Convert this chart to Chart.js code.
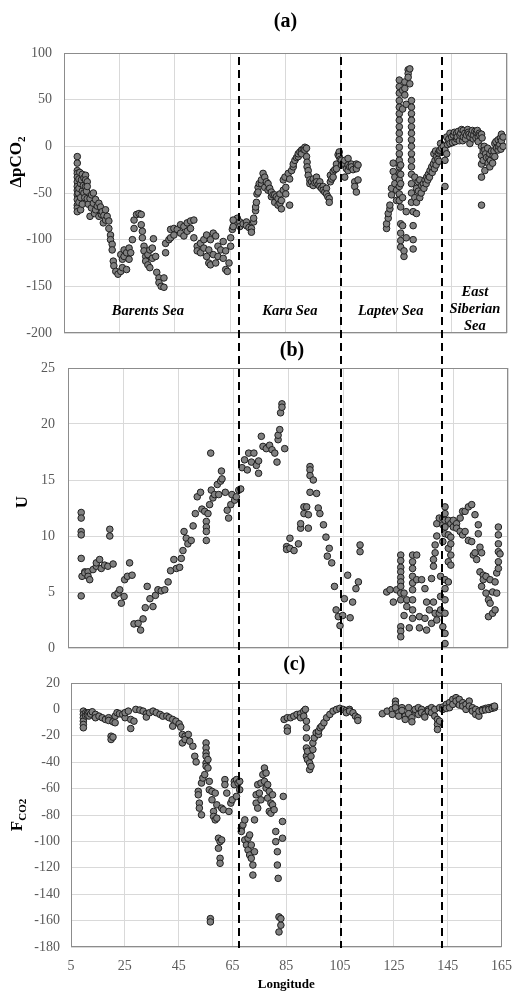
<!DOCTYPE html>
<html><head><meta charset="utf-8">
<script src="https://cdn.jsdelivr.net/npm/chart.js@4.4.0/dist/chart.umd.min.js"></script>
<style>
html,body{margin:0;padding:0;background:#fff;}
body{width:523px;height:993px;position:relative;overflow:hidden;}
canvas{position:absolute;left:0;}
#cd{pointer-events:none;}
</style></head><body>
<canvas id="ca" width="523" height="345" style="top:0px"></canvas>
<canvas id="cb" width="523" height="325" style="top:335px"></canvas>
<canvas id="cc" width="523" height="343" style="top:650px"></canvas>
<canvas id="cd" width="523" height="993" style="top:0px"></canvas>
<script>
// ---------- DATA ----------
const xTicks = [5, 25, 45, 65, 85, 105, 125, 145, 165];
const seaBoundaries = [67.2, 104.3, 141];
const seaNames = [
  {lines:['Barents Sea'], lon:35.3, val:-177},
  {lines:['Kara Sea'], lon:86.6, val:-177},
  {lines:['Laptev Sea'], lon:123, val:-177},
  {lines:['East','Siberian','Sea'], lon:153.4, val:-156}
];

// (a) delta pCO2 : [longitude, value]
const dpco2 = [
[9.8,-11],[9.8,-18],[9.8,-26],[9.8,-29],[9.8,-33],[9.8,-38],[9.8,-43],[9.8,-47],[9.8,-52],[9.8,-57],[9.8,-63],[9.8,-66],[9.8,-70],
[10.1,-50],[10.4,-35],[10.4,-45],[10.4,-60],[10.7,-28],[11,-40],[11,-55],[11,-68],[11.3,-36],[11.6,-30],[11.6,-48],[11.6,-62],[12,-42],
[12.2,-34],[12.2,-50],[12.5,-55],[12.8,-31],[12.8,-36],[12.8,-43],[13.1,-48],[13.4,-38],[13.4,-43],[13.4,-56],[13.8,-62],[14.4,-75],[14.4,-56],
[14.9,-66],[15,-52],[15.6,-50],[15.6,-61],[16,-72],[16.4,-68],[16.4,-57],[17,-64],[17.6,-61],[17.6,-75],[18.2,-65],[18.5,-73],[18.8,-70],
[19.2,-82],[19.4,-74],[20,-68],[20,-79],[20.6,-75],[21.2,-80],[21.2,-88],[21.8,-95],[21.8,-100],[22.4,-105],[22.4,-111],[22.8,-123],[23,-128],[23.7,-134],[24.5,-137],
[25.5,-134],[25.5,-116],[26.1,-130],[26.1,-121],[26.7,-111],[26.7,-118],[27.6,-132],[27.6,-114],[28.5,-109],[28.5,-121],[29.1,-114],[29.7,-100],
[30.3,-88],[30.3,-79],[31.2,-73],[32.1,-72],[32.9,-73],[32.9,-84],[33.3,-91],[33.3,-98],[33.9,-107],[33.9,-112],[34.5,-118],[34.5,-123],
[35.3,-127],[35.3,-116],[36,-130],[36,-111],[36.9,-120],[36.9,-109],[37.3,-99],[38.1,-118],[38.5,-135],[39.3,-141],[39.3,-146],[40.1,-150],
[41.1,-141],[41.1,-151],[41.7,-104],[41.7,-114],[42.9,-100],[43.5,-89],[43.5,-98],[44.7,-95],[44.7,-88],[45.9,-89],[47.1,-84],[47.1,-93],
[48.3,-86],[48.3,-96],[49.5,-82],[49.5,-91],[50.7,-80],[50.7,-88],[51.9,-79],[51.9,-98],[53.1,-107],[53.1,-112],[54.3,-104],[54.3,-114],
[55.5,-100],[55.5,-109],[56.5,-95],[56.5,-118],[57.3,-111],[57.3,-125],[57.9,-100],[57.9,-127],[58.9,-93],[58.9,-116],[59.8,-96],[59.8,-125],
[60.6,-107],[60.6,-118],[61.6,-111],[62.5,-120],[62.5,-102],[63.4,-132],[63.4,-112],[64,-134],[64.6,-125],[65.2,-107],[65.2,-98],[65.8,-89],
[66.6,-82],[67.6,-77],
[66.1,-86],[66.1,-79],[68.5,-81],[68.5,-86],[69.7,-83],[70.9,-81],[70.9,-85],[71.8,-87],[72.7,-88],[72.7,-92],[73.5,-81],[73.5,-77],
[74.2,-69],[74.2,-65],[74.5,-60],[74.7,-51],[75.1,-44],[75.1,-49],[75.5,-40],[76.3,-40],[76.3,-36],[76.9,-29],[77.5,-33],[77.5,-44],
[78.1,-38],[78.7,-47],[78.7,-40],[79.3,-45],[79.9,-54],[79.9,-49],[80.5,-52],[81.1,-60],[81.1,-52],[81.7,-54],[82.3,-63],[82.3,-56],
[83,-61],[83,-51],[83.5,-67],[83.5,-58],[84.2,-36],[84.2,-47],[84.8,-33],[85.1,-51],[85.1,-44],[86,-29],[86.5,-35],[86.5,-63],[87.2,-26],
[87.8,-22],[87.8,-19],[88.4,-15],[89,-12],[89.6,-11],[89.6,-8],[90.2,-6],[90.8,-4],[90.8,-8],[91.4,-3],[92,-1],[92,-4],[92.6,-2],[92.6,-11],
[92.8,-17],[92.8,-22],[93.2,-26],[93.2,-31],[93.8,-36],[93.8,-40],[94.4,-38],[95,-35],[95,-42],[95.6,-39],[96.2,-33],[96.2,-38],[96.8,-41],
[97.4,-38],[97.4,-43],[98,-45],[98.6,-43],[98.6,-47],[99.2,-49],[99.8,-45],[99.8,-51],[100.3,-54],[100.8,-56],[100.8,-60],[101.2,-31],
[101.2,-38],[101.7,-35],[102.2,-27],[102.2,-33],[102.8,-25],[103.4,-19],[103.4,-24],[104,-9],[104.4,-6],[104.4,-11],[104.8,-14],[105.2,-15],
[105.2,-20],[105.8,-18],[106.4,-15],[106.4,-33],[107,-24],[107.6,-13],[107.6,-20],[107.6,-26],[108.2,-22],[108.8,-19],[108.8,-22],[109.4,-25],
[110,-38],[110,-43],[110.6,-19],[110.6,-24],[110.6,-49],[111.2,-20],[111.2,-36],
[121.5,-88],[121.5,-83],[122.1,-77],[122.1,-72],[122.7,-67],[122.7,-63],[123.3,-52],[123.3,-45],[123.9,-18],[123.9,-27],[124.5,-33],[124.5,-40],
[125.1,-58],[125.1,-47],
[126.1,71],[126.1,64],[126.1,57],[126.1,49],[126.1,42],[126.1,35],[126.1,28],[126.1,21],[126.1,14],[126.1,7],[126.1,-1],[126.1,-8],
[126.1,-15],[126.1,-22],[126.1,-29],[126.1,-36],[126.1,-43],[126.1,-51],[126.1,-58],
[126.6,-83],[126.6,-93],[126.6,-101],[126.6,-108],[126.6,-30],[126.6,-40],[126.6,-20],[126.6,-65],
[127.3,60],[127.3,40],[127.3,-55],[127.3,-85],[127.8,-118],[127.8,-112],[128.1,69],[128.1,62],[128.1,55],[128.6,45],[128.6,-70],[128.6,-98],
[129.3,82],[129.3,78],[129.3,74],[129.9,83],[129.9,67],
[130.5,49],[130.5,42],[130.5,35],[130.5,28],[130.5,21],[130.5,14],[130.5,7],[130.5,0],[130.5,-8],[130.5,-15],[130.5,-22],[130.5,-30],
[130.5,-40],[130.5,-50],[130.5,-60],
[131.1,-70],[131.1,-85],[131.1,-100],[131.1,-110],[131.7,-33],[131.7,-55],[132.3,-45],[132.3,-60],[132.3,-72],[132.9,-38],[133,-48],[133.5,-36],
[133.5,-55],[134,-50],[134.2,-42],[134.8,-40],[135,-45],[135.4,-36],[135.8,-40],[136,-33],[136.4,-36],[136.6,-30],[137,-33],[137.2,-26],
[137.8,-22],[138,-28],[138.4,-19],[138.6,-8],[138.8,-24],[139,-15],[139.2,-5],[139.4,-20],[139.6,-11],[140,-14],[140.2,-7],[140.4,-16],
[140.6,-5],[140.8,-4],[141,3],[141.4,-2],[142,0],
[142.6,-4],[142.6,-15],[142.6,-43],[143.2,10],[143.2,-8],[143.5,2],[143.8,6],[144,8],[144.4,14],[144.4,3],[145,10],[145.3,4],[145.6,12],
[146,15],[146.2,5],[146.8,14],[146.8,8],[147,10],[147.4,16],[147.8,6],[148,12],[148.3,14],[148.6,18],[149,6],[149.2,17],[149.2,10],[149.8,14],
[150,8],[150.4,12],[150.8,18],[151,15],[151.3,13],[151.6,10],[151.6,3],[152.2,13],[152.5,17],[152.8,8],[153,12],[153.4,16],[153.8,9],
[154,15],[154.3,17],[154.6,10],[154.6,5],[155,14],[155.2,12],[155.8,13],[155.8,0],[155.8,-10],[155.8,-19],[155.8,-33],[155.8,-63],[156,9],
[156.4,-5],[156.4,-15],[156.8,0],[157,-4],[157,-26],[157.3,-8],[157.6,-12],[158,-2],[158.2,-18],[158.5,-12],[158.8,-8],[158.8,-22],[159,-15],
[159.4,-5],[159.8,-18],[160,-10],[160.3,-5],[160.6,3],[160.6,-11],[161,5],[161.2,-2],[161.8,7],[161.8,-4],[162,0],[162.4,2],[162.6,9],
[162.8,-3],[163,13],[163,6],[163.6,10],[163.6,0]
];

// (b) wind speed U : [longitude, value]
const windU = [
[9.8,12.1],[9.8,11.6],[9.8,10.4],[9.8,10.1],[9.8,8.0],[9.8,4.65],[10.1,6.4],[11.1,6.8],[11.1,6.7],[12.3,6.8],[12.3,6.4],[12.9,6.1],
[14.1,7.0],[15.3,7.3],[15.3,7.6],[16.5,7.9],[17.1,7.1],[18.3,7.4],[19.5,7.3],[20.2,10.6],[20.2,10.0],[21.4,7.5],[22,4.7],[23.2,4.9],
[23.8,5.2],[24.4,4.0],[25.4,4.6],[25.6,6.1],[26.6,6.4],[27.4,7.6],[28.3,6.5],[29,2.15],[30.5,2.2],[31.4,1.6],[32.3,2.6],[33.1,3.6],
[33.8,5.5],[34.8,4.4],[35.9,3.7],[36.8,4.7],[37.7,5.2],[38.9,5.1],[40.2,5.2],[41.4,5.9],[42.3,6.9],[43.5,7.9],[44.4,7.1],[45.6,7.2],
[46.2,8.0],[46.8,8.7],[47.2,10.4],[48,9.8],[48.6,9.3],[49.8,9.6],[50.5,10.9],[51.3,12.0],[52,13.5],[53.2,13.9],[53.7,12.4],[54.7,12.2],
[55.3,11.3],[55.3,10.8],[55.3,10.4],[55.3,9.6],[55.9,12.0],[56.5,12.8],[56.9,17.4],[57.1,14.1],[57.7,13.4],[58.3,13.7],[59.3,14.6],
[59.8,13.7],[60.5,14.9],[60.8,15.8],[61,15.1],[62.2,13.9],[62.9,12.3],[63.4,11.6],[64.2,12.8],[64.6,13.7],[65.6,13.2],[66.2,13.5],
[67.1,14.1],[67.8,14.2],[68.3,16.1],[69.2,16.8],[70.2,15.9],[70.7,17.4],[71.7,16.6],[72.6,17.4],[73.5,16.3],[74.3,15.6],[74.3,16.7],
[75.3,18.9],[75.9,18.0],[77.1,17.8],[78.3,18.1],[79.2,17.7],[80.2,17.4],[81,16.6],[81.4,18.6],[81.4,19.0],[82,19.5],[82.3,21.0],
[82.8,21.8],[82.8,21.5],[83.8,17.8],
[84.5,9.05],[84.5,8.8],[85.7,9.8],[85.7,8.9],[87.2,8.7],[88.8,9.3],[89.6,10.7],[89.6,11.1],[90.8,12.6],[90.8,12.0],[91.8,12.6],[92.4,10.7],
[92.4,11.9],[93,16.2],[93,15.9],[93,15.4],[93,13.9],[94.2,15.0],[95.4,13.8],[96,12.5],[96.6,12.0],[97.9,11.0],[98.8,9.9],[100,8.9],
[99.3,8.2],[100.9,7.6],[101.9,5.5],[102.5,3.4],[103.3,2.8],[103.9,2.0],[104.9,2.9],[105.5,4.4],[106.7,6.5],[107.6,2.7],[108.5,4.1],
[109.7,5.3],[110.6,5.9],[111.2,8.6],[111.2,9.2],
[120.9,5.0],[122.1,5.2],[123.3,4.1],[124.5,5.2],
[126,8.3],[126,7.8],[126,7.2],[126,6.8],[126,6.3],[126,5.9],[126,5.5],[126,4.9],[126,4.3],[126,1.9],[126,1.5],[126,1.0],
[127.2,2.9],[127.2,4.9],[128.2,4.3],[128.2,3.7],[129.1,1.8],
[130.3,8.3],[130.3,7.7],[130.3,7.1],[130.3,6.4],[130.3,5.8],[130.3,5.2],[130.3,4.3],[130.3,3.4],[130.3,2.65],
[131.8,8.3],[131.8,6.1],[132.8,1.8],[132.8,2.8],[133.6,6.1],[134.8,5.3],[134.8,2.65],[135.4,4.1],[135.4,1.6],[136.4,3.4],[137.2,6.2],
[137.2,2.2],[137.9,7.3],[137.9,7.9],[137.9,4.1],[138.5,9.2],[138.5,8.5],[138.5,3.1],[139.1,10.0],[139.1,11.1],[139.1,2.5],[140,11.6],
[140,3.1],[140.5,4.6],[140.5,3.4],[140.5,6.4],[141.3,11.0],[141.3,11.6],[141.3,9.5],[141.3,1.9],
[142.1,12.6],[142.1,12.0],[142.1,11.4],[142.1,10.8],[142.1,10.2],[142.1,6.1],[142.1,5.3],[142.1,4.3],[142.1,3.1],[142.1,1.3],[142.1,0.4],
[143.3,11.4],[143.3,10.1],[143.3,8.9],[143.3,7.7],[143.3,5.9],[144.2,11.1],[144.2,9.9],[144.2,9.3],[144.2,8.3],[144.2,7.4],
[145.1,11.4],[145.1,10.8],[146.3,11.1],[146.3,10.7],[147.6,11.6],[147.6,10.4],[148.5,12.2],[148.5,10.1],[149.4,12.2],[149.4,10.4],
[150.6,12.6],[150.6,9.6],[151.8,12.8],[151.8,9.5],[152.4,8.3],[153,11.9],[153,8.5],[153.6,7.9],[154.2,11.0],[154.2,10.2],[154.8,6.8],
[154.8,9.0],[155.4,8.5],[155.4,5.5],[156,6.5],[156,6.1],[157,6.4],[157,4.9],[157.9,4.3],[157.9,2.8],[158.5,4.0],[158.5,6.1],[159.4,5.0],
[159.4,3.1],[160.3,5.9],[160.3,3.4],[160.9,6.7],[160.9,4.9],[161.5,10.8],[161.5,10.1],[161.5,9.3],[161.5,8.6],[161.5,7.7],[161.5,7.1],
[162.1,8.4]
];

// (c) CO2 flux : [longitude, value]
const fco2 = [
[9.6,-1.3],[9.6,-3.8],[9.6,-6.3],[9.6,-8.9],[9.6,-11.4],[9.6,-13.9],[10.5,-2.5],[10.5,-5],[11.1,-3],[11.1,-4.5],[11.7,-2.5],[11.7,-5],
[12.3,-3.5],[12.9,-1.8],[14.1,-3.8],[14.1,-6.3],[15.4,-5.1],[16.6,-6.3],[17.8,-7.6],[19,-6.3],[19,-8.4],[19.9,-20.3],[19.9,-22.8],
[20.6,-21],[20.6,-9.4],[21.4,-10.1],[21.4,-5.1],[22.1,-2.5],[23,-3.3],[24.2,-3.8],[25.1,-6.3],[25.1,-2.5],[26.3,-1.3],[27.2,-7.6],
[27.2,-14.5],[28.4,-8.9],[29.1,0],[30.6,-0.5],[31.8,-1.3],[33,-3.3],[33,-5.8],[34.2,-2.5],[35.5,-1.3],[36.7,-2.5],[38.1,-3.8],[39.1,-5.1],
[40.6,-5.1],[41.5,-6.3],[42.8,-7.6],[42.8,-12.7],[44,-8.9],[45.2,-10.9],[45.8,-13.4],[46.4,-19],[46.4,-25.4],[47.4,-20.3],[47.4,-22.8],
[48.6,-19],[49.1,-24.1],[50.3,-27.9],[51,-35.5],[51.5,-39.8],[52.3,-62.1],[52.3,-64.7],[52.7,-71],[52.7,-74.8],[53.5,-55.8],[53.5,-79.9],
[54,-52],[54.7,-49.4],[55.2,-25.4],[55.2,-29.2],[55.2,-33],[55.2,-35.5],[55.2,-40.6],[55.2,-43.1],[55.9,-44.4],[55.9,-38],[56.4,-54.5],
[56.4,-60.9],[56.8,-158.5],[56.8,-161],[57.4,-62.1],[57.4,-68.5],[58,-77.3],[58,-81.1],[58.6,-63.4],[58.6,-83.7],[59.2,-72.3],[59.2,-82.4],
[59.8,-97.6],[59.8,-105.2],[60.4,-100.2],[60.4,-112.8],[60.4,-116.6],[61,-98.9],[61,-74.8],[61.6,-76],[62.2,-53.2],[62.2,-57],[62.9,-63.4],
[63.7,-77.3],[64.4,-71],[64.9,-68.5],[65.7,-54.5],[65.7,-57],[66.5,-53.2],[66.5,-65.9],[67.1,-55.8],[67.7,-60.9],[67.7,-54.5],[68.3,-90],
[68.3,-92.5],[68.9,-87.5],[69.6,-83.7],[69.6,-98.9],[70.2,-102.7],[70.8,-106.5],[70.8,-97.6],[71.4,-95.1],[71.4,-110.3],[72,-112.8],
[72,-102.7],[72.6,-117.9],[72.6,-125.5],[73.2,-107.8],[73.2,-83.7],[73.8,-64.7],[73.8,-71],[74.4,-74.8],[74.4,-57],[75,-63.4],[75.6,-55.8],
[75.6,-68.5],[76.3,-49.4],[76.9,-44.4],[76.9,-54.5],[77.5,-48.2],[77.5,-59.6],[78.1,-57],[78.1,-67.2],[78.7,-62.1],[78.7,-77.3],[79.3,-71],
[79.3,-78.6],[79.9,-72.3],[79.9,-64.7],[80.5,-76],[81.1,-92.5],[81.1,-100.2],[81.7,-107.8],[81.7,-117.9],[82,-128],[82.3,-157.2],
[82.3,-168.6],[83,-163.5],[83,-158.5],[83.6,-97.6],[83.6,-84.9],[83.9,-65.9],
[84.2,-7.6],[85.4,-6.3],[85.4,-13.9],[85.4,-16.5],[86.6,-6.3],[87.8,-5.1],[89,-3.8],[90.3,-3.3],[90.3,-6.3],[91.5,-1.3],[91.5,-5.1],
[92.1,0],[92.5,-8.9],[92.5,-13.9],[92.5,-21.6],[92.5,-29.2],[92.5,-35.5],[92.9,-31.7],[92.9,-38],[93.7,-40.6],[93.7,-45.6],[94.2,-43.1],
[94.2,-35.5],[94.9,-30.4],[94.9,-25.4],[95.4,-21.6],[96.1,-17.7],[97,-19],[97,-16.5],[97.6,-13.9],[98.2,-12.7],[99,-10.1],[100,-6.3],
[101.2,-3.8],[102.4,-1.3],[103.7,0],[104.9,0.8],[106.1,0],[107.3,-0.8],[107.3,-2.5],[108.5,0],[108.5,-1.3],[109.8,-2.5],[110.7,-5.1],
[111.6,-6.3],[111.6,-8.4],
[120.7,-3.3],[122.5,-1.3],[124.4,0],[124.4,-3.8],[125.6,6.3],[125.6,3.8],[125.6,1.3],[126.8,-2.5],[126.8,-5.1],[128,1.3],[128,-0.8],
[129.2,-5.1],[129.2,-7.6],[130.5,1.3],[130.5,-3.3],[131.7,-6.3],[131.7,-9.4],[132.9,-1.3],[132.9,0],[134.1,-3.8],[134.1,1.3],[135.3,0],
[135.3,-2.5],[136.5,-3.8],[136.5,-5.8],[137.8,0],[137.8,-1.3],[139,1.3],[139,-2.5],[140.2,0],[140.2,-5.1],[141.2,-7.6],[141.2,-11.4],
[141.2,-15.2],[142,-8.9],[142,1.3],[143.2,1.8],[143.2,0],[144.5,3.8],[144.5,0.8],[145.7,5.1],[145.7,1.3],[146.9,7.6],[146.9,3.8],
[148.1,8.9],[148.1,6.3],[149.3,7.6],[149.3,3.3],[150.6,5.1],[150.6,2.5],[151.8,3.8],[151.8,0],[153,6.3],[153,2.5],[154.2,1.3],[154.2,-1.3],
[155.4,0],[155.4,-3.8],[156.6,-5.1],[156.6,-1.3],[157.9,0],[157.9,-0.8],[159.1,0.8],[159.1,-0.3],[160.3,1.3],[160.3,0],[161.5,1.8],
[161.5,0.8],[162.4,1.3],[162.4,2.5]
];

// ---------- RENDERING ----------
const SERIF = '"Liberation Serif","Times New Roman",serif';
Chart.defaults.font.family = SERIF;

function rotTitle(ctx, x, y, parts){
  ctx.save();
  ctx.translate(x, y);
  ctx.rotate(-Math.PI/2);
  let total = 0;
  parts.forEach(p => { ctx.font = `bold ${p.size}px ${SERIF}`; p.w = ctx.measureText(p.t).width; total += p.w; });
  let cx = -total/2;
  ctx.textBaseline = 'middle'; ctx.textAlign = 'left'; ctx.fillStyle = '#000';
  parts.forEach(p => { ctx.font = `bold ${p.size}px ${SERIF}`; ctx.fillText(p.t, cx, p.dy || 0); cx += p.w; });
  ctx.restore();
}

function makeDecor(cfg){
  return {
    id: 'decor_' + cfg.id,
    afterDatasetsDraw(chart){
      const {ctx, chartArea: a, scales} = chart;
      ctx.save();
      ctx.strokeStyle = '#8c8c8c'; ctx.lineWidth = 1; ctx.setLineDash([]);
      ctx.strokeRect(Math.round(a.left) + 0.5, Math.round(a.top) + 0.5,
                     Math.round(a.right - a.left) - 1, Math.round(a.bottom - a.top) - 1);
      ctx.fillStyle = '#000'; ctx.textAlign = 'center'; ctx.textBaseline = 'middle';
      ctx.font = `bold 20px ${SERIF}`;
      ctx.fillText(cfg.label, (a.left + a.right)/2 + cfg.labelDx, cfg.labelY);
      rotTitle(ctx, cfg.titleX, cfg.titleY, cfg.title);
      if (cfg.seas){
        ctx.font = `italic bold 14.5px ${SERIF}`;
        ctx.textAlign = 'center'; ctx.textBaseline = 'middle'; ctx.fillStyle = '#000';
        seaNames.forEach(s => {
          const x = scales.x.getPixelForValue(s.lon);
          const y0 = scales.y.getPixelForValue(s.val);
          s.lines.forEach((ln, i) => ctx.fillText(ln, x, y0 + i*17));
        });
      }
      ctx.restore();
    }
  };
}

function panel(cfg){
  const data = cfg.pts.map(p => ({x: p[0], y: p[1]}));
  return new Chart(document.getElementById(cfg.id), {
    type: 'scatter',
    data: {datasets: [{data, pointRadius: 3.3, pointHoverRadius: 3.3,
      backgroundColor: '#808080', borderColor: '#1f1f1f', borderWidth: 1}]},
    options: {
      responsive: false, animation: false, events: [],
      layout: {padding: {top: cfg.padTop, right: cfg.padRight, bottom: cfg.padBottom, left: 0}},
      plugins: {legend: {display: false}, tooltip: {enabled: false}, title: {display: false}},
      scales: {
        x: {
          type: 'linear', min: xTicks[0], max: xTicks[xTicks.length - 1],
          afterBuildTicks: s => { s.ticks = xTicks.map(v => ({value: v})); },
          ticks: {display: cfg.showX, color: '#595959', font: {family: SERIF, size: 14}, padding: 11, maxRotation: 0, autoSkip: false},
          grid: {color: '#d9d9d9', lineWidth: 1, drawTicks: false},
          border: {display: false},
          title: {display: cfg.showX, text: 'Longitude', color: '#000',
                  font: {family: SERIF, size: 13, weight: 'bold'}, padding: {top: 2, bottom: 1}},
          afterFit: s => { s.height = cfg.xHeight; }
        },
        y: {
          min: cfg.ymin, max: cfg.ymax,
          ticks: {stepSize: cfg.step, color: '#595959', font: {family: SERIF, size: 14}, padding: cfg.tickPad},
          grid: {color: '#d9d9d9', lineWidth: 1, drawTicks: false},
          border: {display: false},
          afterFit: s => { s.width = cfg.left; s.paddingTop = 0; s.paddingBottom = 0; }
        }
      }
    },
    plugins: [makeDecor(cfg)]
  });
}

panel({id: 'ca', pts: dpco2, ymin: -200, ymax: 100, step: 50, left: 64, padTop: 53, padRight: 16, padBottom: 12,
  xHeight: 0, tickPad: 12, showX: false, label: '(a)', labelY: 22, labelDx: 0,
  title: [{t: 'ΔpCO', size: 17}, {t: '2', size: 11, dy: 5}], titleX: 17, titleY: 162, seas: true});

const chartB = panel({id: 'cb', pts: windU, ymin: 0, ymax: 25, step: 5, left: 68, padTop: 33, padRight: 15, padBottom: 12,
  xHeight: 0, tickPad: 13, showX: false, label: '(b)', labelY: 16, labelDx: 4,
  title: [{t: 'U', size: 17}], titleX: 23, titleY: 167, seas: false});

panel({id: 'cc', pts: fco2, ymin: -180, ymax: 20, step: 20, left: 71, padTop: 33, padRight: 14, padBottom: 0,
  xHeight: 46, tickPad: 11, showX: true, label: '(c)', labelY: 15, labelDx: 8,
  title: [{t: 'F', size: 17}, {t: 'CO2', size: 11, dy: 5}], titleX: 18, titleY: 165, seas: false});

// dashed sea boundaries across all three panels, placed with panel (b)'s longitude scale
(function(){
  const ctx = document.getElementById('cd').getContext('2d');
  ctx.strokeStyle = '#000'; ctx.lineWidth = 2; ctx.setLineDash([8, 5]);
  seaBoundaries.forEach(lon => {
    const x = Math.round(chartB.scales.x.getPixelForValue(lon));
    ctx.beginPath(); ctx.moveTo(x, 57); ctx.lineTo(x, 948); ctx.stroke();
  });
})();
</script>
</body></html>
